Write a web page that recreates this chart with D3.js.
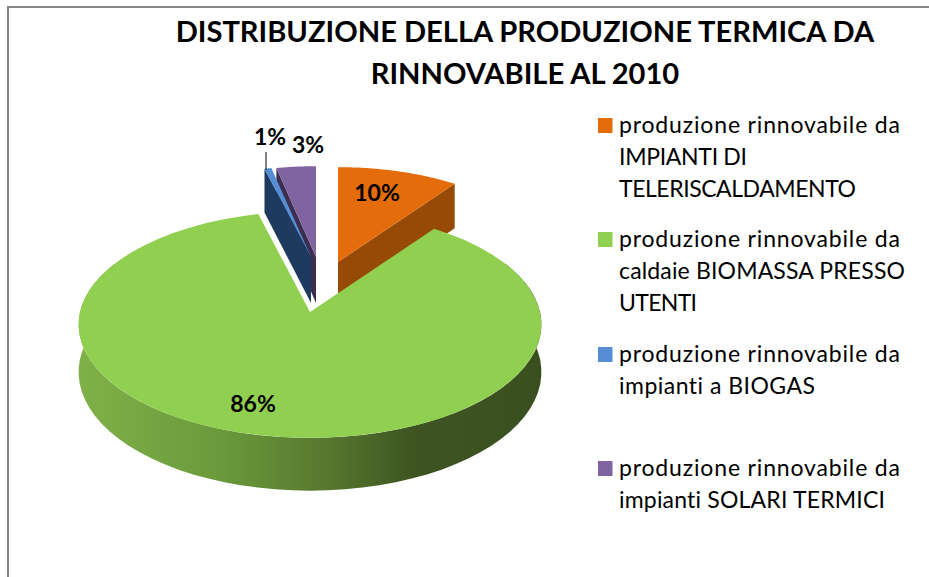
<!DOCTYPE html>
<html>
<head>
<meta charset="utf-8">
<script src="https://cdn.jsdelivr.net/npm/d3@7"></script>
<style>
  body { margin: 0; background: #fff; }
  text { font-family: Lato, "Open Sans", sans-serif; fill: #000; font-variant-ligatures: none; }
</style>
</head>
<body>
<div id="chart"></div>
<script>
const width = 929, height = 577;

// data
const categories = ["impianti teleriscaldamento", "caldaie biomassa", "biogas", "solari termici"];
const values = [10, 86, 0.6, 3.4];
const topColors = ["#e46c0a", "#91cf50", "#558ed5", "#8064a2"];
const wallColors = ["#964a05", "#3c5220", "#1f3a5f", "#3b2e4f"];
const titleLines = ["DISTRIBUZIONE DELLA PRODUZIONE TERMICA DA", "RINNOVABILE AL 2010"];
const legendLines = [
  ["produzione rinnovabile da", "IMPIANTI DI", "TELERISCALDAMENTO"],
  ["produzione rinnovabile da", "caldaie BIOMASSA PRESSO", "UTENTI"],
  ["produzione rinnovabile da", "impianti a BIOGAS"],
  ["produzione rinnovabile da", "impianti SOLARI TERMICI"]
];

// where each exploded slice sits on the page
const apexes = [[338, 262], [310, 312], [311, 257], [316, 257]];
const sizes = [0.94, 1, 0.9, 0.9];
const labelPos = [[377, 201], [253, 412], [270, 145], [308, 153]];
const legendY = [133, 247, 362, 476];
// rendered line widths, the original font is hinted wider than Lato
const legendWidths = [[281, 128, 237], [281, 286, 78], [281, 196], [281, 266]];

const R = 230, tilt = 112 / 230, persp = 0.11, depth = 47;

const svg = d3.select("#chart").append("svg")
    .attr("width", width)
    .attr("height", height)
    .style("display", "block");

// chart frame (only top and left show in the crop)
svg.append("path")
    .attr("d", `M8,${height}V7H${width}`)
    .attr("fill", "none")
    .attr("stroke", "#868686")
    .attr("stroke-width", 2);

const slices = d3.pie().sort(null).value(d => d)(values);

// disc point to page, far side gets smaller
function project(i, a, z) {
    const s = 1 / (1 + persp * Math.cos(a));
    const r = R * sizes[i];
    return [
        apexes[i][0] + r * Math.sin(a) * s,
        apexes[i][1] - r * tilt * Math.cos(a) * s + z * s
    ];
}

const line = d3.line();

function rim(i, a0, a1, z) {
    return d3.range(0, 61).map(k => project(i, a0 + (a1 - a0) * k / 60, z));
}

function topFace(i) {
    return line([apexes[i], ...rim(i, slices[i].startAngle, slices[i].endAngle, 0)]) + "Z";
}

// flat cut wall between apex and the rim at angle a
function cutWall(i, a) {
    const [ax, ay] = apexes[i];
    const d = depth * 1.03;
    return line([project(i, a, 0), [ax, ay], [ax, ay + d * 0.95], project(i, a, d)]) + "Z";
}

// gradient of green outer wall
const grad = svg.append("defs").append("linearGradient")
    .attr("id", "greenWall")
    .attr("gradientUnits", "userSpaceOnUse")
    .attr("x1", 78).attr("x2", 541).attr("y1", 0).attr("y2", 0);
[[0, "#7fb148"], [0.3, "#6b9a3c"], [0.55, "#56762e"], [0.72, "#3e5522"], [1, "#3a4f1f"]]
    .forEach(s => grad.append("stop").attr("offset", s[0]).attr("stop-color", s[1]));

// back slices first, green goes over them
const pieG = svg.append("g");
pieG.append("path").attr("d", cutWall(3, slices[3].startAngle)).attr("fill", wallColors[3]);
pieG.append("path").attr("d", topFace(3)).attr("fill", topColors[3]);
pieG.append("path").attr("d", cutWall(2, slices[2].startAngle)).attr("fill", wallColors[2]);
pieG.append("path").attr("d", topFace(2)).attr("fill", topColors[2]);
pieG.append("path").attr("d", cutWall(0, slices[0].endAngle)).attr("fill", wallColors[0]);
pieG.append("path").attr("d", topFace(0)).attr("fill", topColors[0]);

const wallFrom = Math.PI * 0.35, wallTo = Math.PI * 1.65;
pieG.append("path")
    .attr("d", line([...rim(1, wallFrom, wallTo, 0), ...rim(1, wallFrom, wallTo, depth).reverse()]) + "Z")
    .attr("fill", "url(#greenWall)");
pieG.append("path").attr("d", topFace(1)).attr("fill", topColors[1]);

// leader for 1%
svg.append("line")
    .attr("x1", 266).attr("x2", 266)
    .attr("y1", 152).attr("y2", 170)
    .attr("stroke", "#000");

svg.selectAll(".pct")
    .data(slices)
    .join("text")
    .attr("class", "pct")
    .attr("x", (d, i) => labelPos[i][0])
    .attr("y", (d, i) => labelPos[i][1])
    .attr("text-anchor", "middle")
    .attr("font-size", 23)
    .attr("font-weight", 700)
    .text(d => d3.format(".0%")(d.value / 100));

svg.selectAll(".title")
    .data(titleLines)
    .join("text")
    .attr("class", "title")
    .attr("x", 525)
    .attr("y", (d, i) => 42 + i * 42)
    .attr("text-anchor", "middle")
    .attr("font-size", 29.1)
    .attr("font-weight", 700)
    .text(d => d);

// legend
const legend = svg.selectAll(".legend")
    .data(categories)
    .join("g")
    .attr("class", "legend")
    .attr("transform", (d, i) => `translate(598,${legendY[i]})`);

legend.append("rect")
    .attr("y", -15)
    .attr("width", 14.5)
    .attr("height", 15)
    .attr("fill", (d, i) => topColors[i]);

legend.each(function (d, i) {
    d3.select(this).selectAll("text")
        .data(legendLines[i])
        .join("text")
        .attr("x", 21)
        .attr("y", (t, k) => k * 32)
        .attr("font-size", 23)
        .attr("textLength", (t, k) => legendWidths[i][k])
        .attr("lengthAdjust", "spacing")
        .text(t => t);
});
</script>
</body>
</html>
